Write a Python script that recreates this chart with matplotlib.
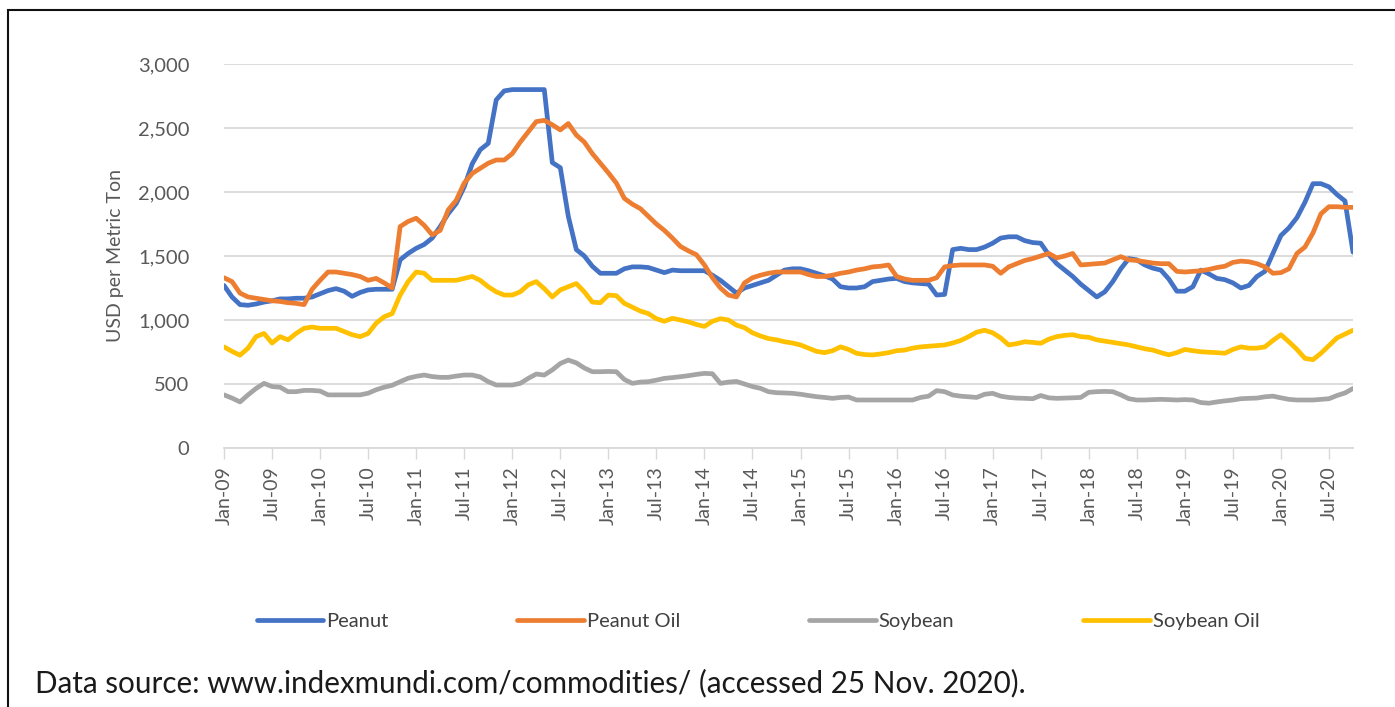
import numpy as np
import matplotlib.pyplot as plt
from matplotlib.patches import Rectangle

plt.rcParams['font.family'] = ['Lato', 'DejaVu Sans']

# monthly prices, Jan-2009 .. Oct-2020 (USD per metric ton)
peanut = [
    1270, 1180, 1120, 1115, 1125, 1140, 1150, 1165, 1165, 1170, 1170, 1180,
    1205, 1230, 1245, 1225, 1185, 1215, 1235, 1240, 1240, 1240, 1470, 1520,
    1560, 1590, 1640, 1730, 1830, 1910, 2040, 2220, 2330, 2380, 2720, 2790,
    2800, 2800, 2800, 2800, 2800, 2230, 2190, 1810, 1550, 1500, 1420, 1365,
    1365, 1365, 1400, 1415, 1415, 1410, 1390, 1370, 1390, 1385, 1385, 1385,
    1385, 1350, 1310, 1260, 1210, 1250, 1270, 1290, 1310, 1350, 1390, 1400,
    1400, 1385, 1365, 1345, 1320, 1260, 1250, 1250, 1260, 1300, 1310, 1320,
    1325, 1300, 1290, 1285, 1280, 1195, 1200, 1550, 1560, 1550, 1550, 1570,
    1600, 1640, 1650, 1650, 1620, 1605, 1600, 1510, 1440, 1390, 1340, 1280,
    1230, 1180, 1220, 1300, 1400, 1480, 1470, 1430, 1405, 1390, 1320, 1225,
    1225, 1260, 1390, 1360, 1325, 1315, 1290, 1250, 1270, 1340, 1380, 1520,
    1660, 1720, 1800, 1920, 2065, 2065, 2040, 1980, 1930, 1530,
]
peanut_oil = [
    1330, 1300, 1210, 1180, 1170, 1160, 1150, 1145, 1135, 1130, 1120, 1240,
    1310, 1375, 1375, 1365, 1355, 1340, 1310, 1325, 1290, 1250, 1730, 1770,
    1795, 1740, 1665, 1700, 1860, 1935, 2070, 2145, 2185, 2225, 2250, 2250,
    2300, 2390, 2470, 2550, 2560, 2525, 2485, 2535, 2445, 2390, 2300, 2225,
    2150, 2070, 1950, 1905, 1870, 1810, 1750, 1700, 1640, 1575, 1540, 1510,
    1430, 1330, 1250, 1195, 1180, 1290, 1330, 1350, 1365, 1375, 1375, 1375,
    1375, 1355, 1340, 1340, 1350, 1365, 1375, 1390, 1400, 1415, 1420, 1430,
    1340, 1320, 1310, 1310, 1310, 1330, 1415, 1425, 1430, 1430, 1430, 1430,
    1420, 1365, 1415, 1440, 1465, 1480, 1500, 1520, 1485, 1500, 1520, 1430,
    1435, 1440, 1445, 1470, 1495, 1470, 1465, 1455, 1445, 1440, 1440, 1380,
    1375, 1380, 1385, 1395, 1410, 1420, 1450, 1460, 1455, 1440, 1415, 1365,
    1370, 1400, 1520, 1570, 1680, 1830, 1885, 1885, 1880, 1880,
]
soybean = [
    415, 390, 360, 415, 465, 505, 480, 475, 440, 440, 450, 450,
    445, 415, 415, 415, 415, 415, 428, 455, 475, 490, 518, 545,
    560, 570, 558, 552, 552, 562, 570, 570, 555, 518, 492, 492,
    492, 505, 544, 578, 570, 610, 660, 687, 665, 625, 596, 596,
    598, 596, 535, 505, 515, 518, 530, 544, 550, 557, 565, 575,
    583, 580, 505, 515, 520, 500, 480, 466, 440, 432, 430, 427,
    420, 410, 401, 395, 388, 395, 398, 375, 375, 375, 375, 375,
    375, 375, 375, 395, 405, 448, 440, 414, 405, 400, 395, 420,
    427, 405, 395, 390, 388, 385, 410, 392, 388, 390, 392, 395,
    435, 440, 442, 440, 415, 385, 375, 375, 378, 380, 378, 375,
    378, 375, 355, 350, 360, 368, 375, 385, 388, 390, 400, 405,
    392, 380, 375, 375, 375, 380, 385, 410, 430, 465,
]
soybean_oil = [
    790, 755, 725, 780, 870, 895, 820, 870, 845, 895, 935, 945,
    935, 935, 935, 910, 885, 870, 895, 975, 1025, 1050, 1195, 1300,
    1375, 1365, 1310, 1310, 1310, 1310, 1325, 1340, 1310, 1260, 1220, 1195,
    1195, 1220, 1275, 1300, 1245, 1180, 1235, 1260, 1285, 1220, 1140, 1135,
    1195, 1190, 1130, 1100, 1070, 1050, 1010, 990, 1013, 1000, 985, 965,
    950, 990, 1010, 1000, 960, 940, 900, 875, 855, 845, 830, 820,
    805, 780, 755, 745, 760, 790, 770, 740, 730, 727, 735, 745,
    760, 765, 780, 790, 795, 800, 805, 820, 840, 870, 905, 920,
    900, 860, 805, 815, 830, 825, 818, 850, 870, 880, 885, 870,
    865, 845, 835, 825, 815, 805, 790, 775, 765, 745, 728, 745,
    770, 760, 752, 748, 745, 740, 770, 790, 780, 780, 790, 840,
    885, 830, 770, 700, 690, 740, 800, 860, 890, 920,
]

series_names = ['Peanut', 'Peanut Oil', 'Soybean', 'Soybean Oil']
series_colors = ['#4472C4', '#ED7D31', '#A5A5A5', '#FFC000']

months = ['Jan', 'Jul']
years = range(9, 21)
tick_labels = [f'{m}-{y:02d}' for y in years for m in months]

fig = plt.figure(figsize=(13.95, 7.07), dpi=100)
ax = fig.add_axes([224 / 1395, 1 - 448 / 707, 1129 / 1395, 384 / 707])

x = np.arange(len(peanut))
for vals, name, col in zip([peanut, peanut_oil, soybean, soybean_oil],
                           series_names, series_colors):
    ax.plot(x, vals, color=col, lw=3.4, label=name,
            solid_joinstyle='round', solid_capstyle='round')

ax.set_xlim(0, len(peanut) - 1)
ax.set_ylim(0, 3000)
ax.set_yticks(np.arange(0, 3001, 500))
ax.yaxis.set_major_formatter(plt.FuncFormatter(lambda v, p: f'{int(v):,}'))
ax.set_xticks(np.arange(0, 6 * len(tick_labels), 6))
ax.set_xticklabels(tick_labels, rotation=90)

ax.grid(axis='y', color='#D9D9D9', lw=1.3)
ax.set_axisbelow(True)
for s in ['top', 'right', 'left']:
    ax.spines[s].set_visible(False)
ax.spines['bottom'].set_color('#D9D9D9')
ax.spines['bottom'].set_linewidth(1.3)
ax.tick_params(axis='y', length=0, pad=25, labelsize=14.5, labelcolor='#595959')
ax.tick_params(axis='x', length=8, width=1, color='#D9D9D9', pad=5,
               labelsize=14, labelcolor='#595959')
ax.set_ylabel('USD per Metric Ton', fontsize=14, color='#595959', labelpad=10)

fig.legend(loc='center', bbox_to_anchor=(758 / 1395, 1 - 621 / 707), ncol=4,
           frameon=False, fontsize=14.5, handlelength=3.3, handletextpad=0.15,
           columnspacing=6.4, labelcolor='#404040')

fig.text(35 / 1395, 1 - 683 / 707,
         'Data source: www.indexmundi.com/commodities/ (accessed 25 Nov. 2020).',
         fontsize=21.3, color='#1a1a1a', va='center', ha='left')

# frame around the figure (runs off the right and bottom edges)
fig.patches.append(Rectangle((8 / 1395, -0.05), 1.1, 1 - 10 / 707 + 0.05,
                             transform=fig.transFigure, fill=False,
                             ec='#111111', lw=1.5, clip_on=False))

fig.savefig('out.png', dpi=100, facecolor='white')
